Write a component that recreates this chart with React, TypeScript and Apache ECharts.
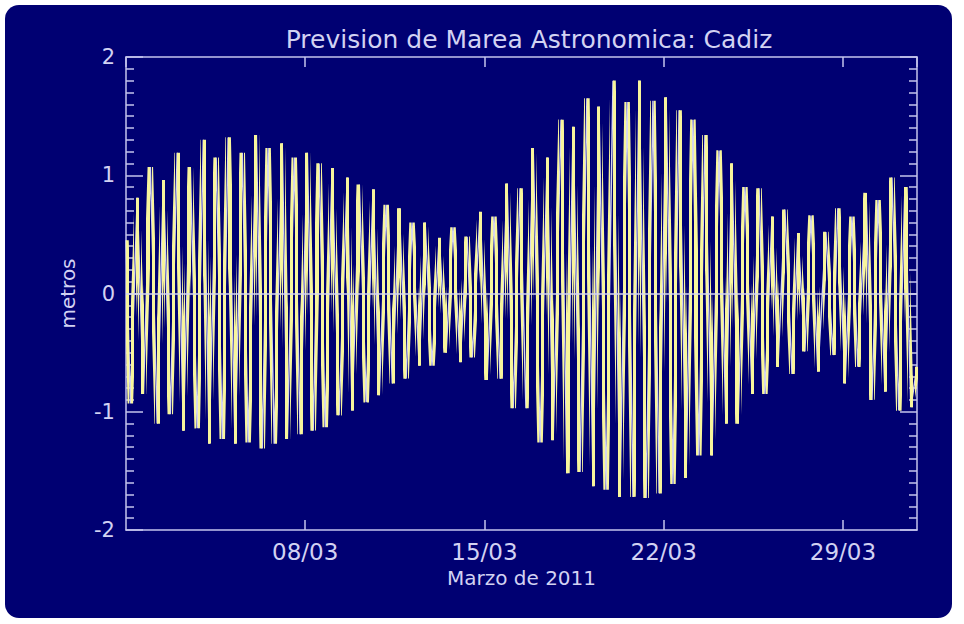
import { useEffect, useRef } from "react";
import * as echarts from "echarts";

// tide extremes: days since 01/03 00:00, level in metres
const tideDays = [
  0, 0.17, 0.44, 0.68, 0.95, 1.22, 1.46, 1.73, 2.0, 2.24,
  2.51, 2.78, 3.02, 3.25, 3.52, 3.76, 3.99, 4.26, 4.54, 4.77,
  5.09, 5.32, 5.55, 5.79, 6.1, 6.3, 6.57, 6.8, 7.08, 7.31,
  7.54, 7.78, 8.05, 8.32, 8.64, 8.83, 9.11, 9.38, 9.65, 9.89,
  10.16, 10.4, 10.67, 10.94, 11.17, 11.45, 11.68, 11.95, 12.23, 12.5,
  12.77, 13.05, 13.32, 13.52, 13.83, 14.1, 14.37, 14.61, 14.88, 15.12,
  15.39, 15.62, 15.9, 16.17, 16.45, 16.68, 16.99, 17.22, 17.46, 17.73,
  18.0, 18.24, 18.47, 18.75, 19.02, 19.29, 19.57, 19.8, 20.04, 20.31,
  20.58, 20.82, 21.09, 21.36, 21.6, 21.87, 22.14, 22.37, 22.61, 22.88,
  23.16, 23.43, 23.66, 23.9, 24.17, 24.45, 24.72, 24.95, 25.23, 25.46,
  25.73, 26.01, 26.24, 26.51, 26.75, 27.02, 27.33, 27.61, 27.8, 28.08,
  28.35, 28.58, 28.9, 29.13, 29.37, 29.64, 29.91, 30.18, 30.42, 30.65,
  30.89,
];

const tideLevels = [
  0.45, -0.93, 0.81, -0.85, 1.07, -1.1, 0.96, -1.02, 1.19, -1.16,
  1.07, -1.14, 1.3, -1.27, 1.15, -1.23, 1.32, -1.27, 1.19, -1.26,
  1.34, -1.31, 1.23, -1.27, 1.27, -1.23, 1.15, -1.19, 1.19, -1.16,
  1.1, -1.13, 1.06, -1.03, 0.98, -0.99, 0.92, -0.92, 0.88, -0.86,
  0.75, -0.76, 0.72, -0.72, 0.6, -0.61, 0.6, -0.61, 0.47, -0.5,
  0.56, -0.58, 0.48, -0.54, 0.69, -0.73, 0.65, -0.72, 0.93, -0.97,
  0.89, -0.97, 1.23, -1.26, 1.15, -1.24, 1.47, -1.52, 1.41, -1.51,
  1.65, -1.63, 1.58, -1.66, 1.8, -1.72, 1.62, -1.72, 1.8, -1.73,
  1.63, -1.69, 1.66, -1.61, 1.55, -1.56, 1.47, -1.37, 1.34, -1.37,
  1.21, -1.1, 1.1, -1.1, 0.9, -0.85, 0.89, -0.85, 0.65, -0.62,
  0.71, -0.68, 0.51, -0.49, 0.66, -0.66, 0.52, -0.52, 0.72, -0.76,
  0.65, -0.62, 0.85, -0.9, 0.79, -0.83, 0.98, -0.99, 0.9, -0.96,
  -0.62,
];

const tickDays = [7, 14, 21, 28];
const tickLabels = ["08/03", "15/03", "22/03", "29/03"];

const NAVY = "#000072";
const AXIS = "#c4c4ee";
const TEXT = "#d2d2f2";
const YELLOW = "#f8f59c";
const WHITE = "#d6d6ec";
const FONT = "DejaVu Sans";

export default function App() {
  const chartRef = useRef(null);

  useEffect(() => {
    const chart = echarts.init(chartRef.current, null, { renderer: "svg" });
    const points = tideDays.map((d, i) => [d, tideLevels[i]]);

    // thick yellow chunks along the curve, alternating with thin white
    const chunks = [];
    for (let t = 0; t < 31; t += 0.2) {
      chunks.push({ gte: t, lt: t + 0.12, color: YELLOW });
    }

    const yAxisBase = {
      type: "value",
      min: -2,
      max: 2,
      interval: 1,
      axisLine: { show: true, onZero: false, lineStyle: { color: AXIS, width: 1.5 } },
      axisTick: { show: true, inside: true, length: 17, lineStyle: { color: AXIS, width: 1.5 } },
      minorTick: { show: true, splitNumber: 10, length: 8, lineStyle: { color: AXIS, width: 1.5 } },
      splitLine: { show: false },
    };

    const xAxisBase = {
      type: "value",
      min: 0,
      max: 30.89,
      interval: 7,
      axisLine: { show: true, onZero: false, lineStyle: { color: AXIS, width: 1.5 } },
      axisTick: { show: true, inside: true, length: 10, lineStyle: { color: AXIS, width: 1.5 } },
      splitLine: { show: false },
    };

    const options = {
      animation: false,
      backgroundColor: "#ffffff",
      title: {
        text: "Prevision de Marea Astronomica: Cadiz",
        left: 524,
        top: 22,
        textAlign: "center",
        textStyle: { color: TEXT, fontFamily: FONT, fontSize: 25, fontWeight: "normal" },
      },
      graphic: [
        {
          type: "rect",
          z: -10,
          shape: { x: 5, y: 5, width: 947, height: 613, r: 14 },
          style: { fill: NAVY },
        },
      ],
      grid: { left: 126, right: 47, top: 57, bottom: 94 },
      xAxis: [
        {
          ...xAxisBase,
          position: "bottom",
          name: "Marzo de 2011",
          nameLocation: "middle",
          nameGap: 37,
          nameTextStyle: { color: TEXT, fontFamily: FONT, fontSize: 20 },
          axisLabel: {
            color: TEXT,
            fontFamily: FONT,
            fontSize: 23,
            margin: 10,
            showMinLabel: false,
            showMaxLabel: false,
            formatter: (v) => {
              const k = tickDays.indexOf(v);
              return k < 0 ? "" : tickLabels[k];
            },
          },
        },
        {
          ...xAxisBase,
          position: "top",
          axisLabel: { show: false },
        },
      ],
      yAxis: [
        {
          ...yAxisBase,
          position: "left",
          name: "metros",
          nameLocation: "middle",
          nameRotate: 90,
          nameGap: 48,
          nameTextStyle: { color: TEXT, fontFamily: FONT, fontSize: 20 },
          axisLabel: { color: TEXT, fontFamily: FONT, fontSize: 21, margin: 11 },
        },
        {
          ...yAxisBase,
          position: "right",
          axisLabel: { show: false },
        },
      ],
      visualMap: {
        type: "piecewise",
        show: false,
        seriesIndex: 1,
        dimension: 0,
        pieces: chunks,
        outOfRange: { color: "rgba(0,0,0,0)" },
      },
      series: [
        {
          name: "Marea",
          type: "line",
          data: points,
          showSymbol: false,
          lineStyle: { color: WHITE, width: 1.5 },
          z: 2,
        },
        {
          name: "Marea (trazo)",
          type: "line",
          data: points,
          showSymbol: false,
          lineStyle: { width: 5.5 },
          z: 3,
        },
        {
          name: "cero",
          type: "line",
          data: [],
          z: 4,
          markLine: {
            silent: true,
            symbol: "none",
            label: { show: false },
            lineStyle: { color: "#d4d4f0", width: 1.5, type: "solid" },
            data: [{ yAxis: 0 }],
          },
        },
      ],
    };

    chart.setOption(options);

    return () => {
      chart.dispose();
    };
  }, []);

  return (
    <div
      ref={chartRef}
      style={{ position: "absolute", left: 0, top: 0, width: "964px", height: "624px" }}
    />
  );
}
